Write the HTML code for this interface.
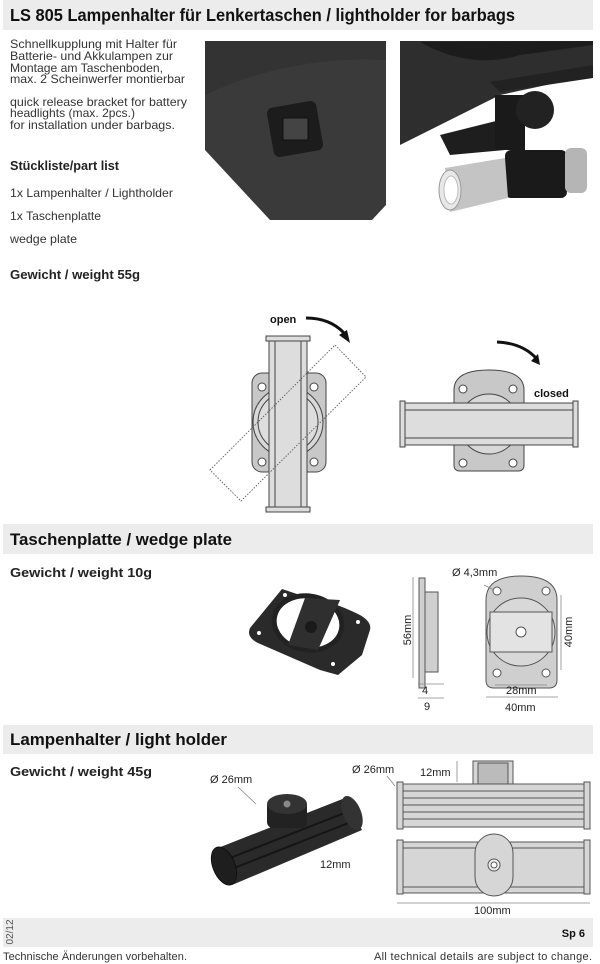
<!DOCTYPE html>
<html><head><meta charset="utf-8"><style>
body{margin:0;background:#fff;}
svg{display:block;font-family:"Liberation Sans",sans-serif;}
</style></head><body>
<svg width="600" height="964" viewBox="0 0 600 964" xmlns="http://www.w3.org/2000/svg">
<rect x="3" y="0" width="590" height="30" fill="#ececec"/>
<text x="10" y="21" font-size="17.5" font-weight="bold" fill="#111" textLength="505" lengthAdjust="spacingAndGlyphs">LS 805 Lampenhalter für Lenkertaschen / lightholder for barbags</text>
<g font-size="12" fill="#333">
<text x="10" y="48" textLength="167" lengthAdjust="spacingAndGlyphs">Schnellkupplung mit Halter für</text>
<text x="10" y="60" textLength="163" lengthAdjust="spacingAndGlyphs">Batterie- und Akkulampen zur</text>
<text x="10" y="72" textLength="153" lengthAdjust="spacingAndGlyphs">Montage am Taschenboden,</text>
<text x="10" y="83" textLength="175" lengthAdjust="spacingAndGlyphs">max. 2 Scheinwerfer montierbar</text>
<text x="10" y="106" textLength="177" lengthAdjust="spacingAndGlyphs">quick release bracket for battery</text>
<text x="10" y="117" textLength="125" lengthAdjust="spacingAndGlyphs">headlights (max. 2pcs.)</text>
<text x="10" y="129" textLength="165" lengthAdjust="spacingAndGlyphs">for installation under barbags.</text>
<text x="10" y="197" textLength="163" lengthAdjust="spacingAndGlyphs">1x Lampenhalter / Lightholder</text>
<text x="10" y="220" textLength="91" lengthAdjust="spacingAndGlyphs">1x Taschenplatte</text>
<text x="10" y="243" textLength="67" lengthAdjust="spacingAndGlyphs">wedge plate</text>
</g>
<g font-size="13" font-weight="bold" fill="#222">
<text x="10" y="170" textLength="109" lengthAdjust="spacingAndGlyphs">Stückliste/part list</text>
<text x="10" y="279" textLength="130" lengthAdjust="spacingAndGlyphs">Gewicht / weight 55g</text>
</g>
<!-- photos -->
<path d="M205 41 L386 41 L386 205 L372 220 L270 220 L205 150Z" fill="#3a3a3a"/>
<path d="M205 95 Q290 55 386 60 L386 41 L205 41Z" fill="#333"/>
<rect x="270" y="104" width="50" height="50" rx="6" fill="#1c1c1c" transform="rotate(-10 295 129)"/>
<rect x="283" y="118" width="25" height="22" fill="#444" stroke="#111"/>
<path d="M400 41 L593 41 L593 75 L500 95 L400 145Z" fill="#2e2e2e"/>
<path d="M420 42 Q470 70 520 55 L593 45 L593 41Z" fill="#1c1c1c"/>
<path d="M490 82 L593 65 L593 78 L500 92Z" fill="#222"/>
<path d="M440 135 L500 120 L505 150 L450 155Z" fill="#1e1e1e"/>
<rect x="495" y="95" width="30" height="55" fill="#1a1a1a"/>
<circle cx="535" cy="110" r="19" fill="#222"/>
<rect x="505" y="150" width="62" height="48" rx="6" fill="#1a1a1a"/>
<path d="M445 168 L505 158 L508 198 L450 212Z" fill="#c4c4c4"/>
<ellipse cx="450" cy="190" rx="11" ry="20" fill="#e8e8e8" stroke="#999"/>
<ellipse cx="451" cy="190" rx="7" ry="14" fill="#fff" stroke="#bbb"/>
<rect x="565" y="148" width="22" height="45" rx="6" fill="#b5b5b5"/>
<!-- open diagram -->
<g stroke="#444" stroke-width="1" fill="#c8c8c8">
<rect x="252" y="373" width="74" height="99" rx="10"/>
<circle cx="288" cy="422" r="35" fill="#d8d8d8"/>
<circle cx="288" cy="422" r="30" fill="#ddd"/>
<circle cx="262" cy="387" r="4" fill="#fff"/><circle cx="314" cy="387" r="4" fill="#fff"/>
<circle cx="262" cy="462" r="4" fill="#fff"/><circle cx="314" cy="462" r="4" fill="#fff"/>
<rect x="269" y="339" width="38" height="171" fill="#ddd"/>
<line x1="275" y1="339" x2="275" y2="510"/><line x1="301" y1="339" x2="301" y2="510"/>
<rect x="266" y="336" width="44" height="5" fill="#ddd"/>
<rect x="266" y="507" width="44" height="5" fill="#ddd"/>
</g>
<polygon points="210,470 335,345 366,377 241,501" fill="none" stroke="#666" stroke-dasharray="1.5,1.5"/>
<text x="270" y="323" font-size="11" font-weight="bold" fill="#111">open</text>
<path d="M306 318 Q330 318 344 333" fill="none" stroke="#111" stroke-width="3"/>
<polygon points="339,335 350,343 347,330" fill="#111"/>
<!-- closed diagram -->
<g stroke="#444" stroke-width="1" fill="#c8c8c8">
<path d="M454 390 Q454 370 489 370 Q524 370 524 390 L524 465 Q524 471 518 471 L460 471 Q454 471 454 465Z"/>
<circle cx="489" cy="424" r="30" fill="#d8d8d8"/>
<circle cx="463" cy="389" r="4" fill="#fff"/><circle cx="513" cy="389" r="4" fill="#fff"/>
<circle cx="463" cy="463" r="4" fill="#fff"/><circle cx="513" cy="463" r="4" fill="#fff"/>
<rect x="404" y="403" width="170" height="42" fill="#ddd"/>
<line x1="404" y1="410" x2="574" y2="410"/><line x1="404" y1="438" x2="574" y2="438"/>
<rect x="400" y="401" width="5" height="46" fill="#ddd"/>
<rect x="573" y="401" width="5" height="46" fill="#ddd"/>
</g>
<text x="534" y="397" font-size="11" font-weight="bold" fill="#111">closed</text>
<path d="M497 342 Q522 343 536 358" fill="none" stroke="#111" stroke-width="3"/>
<polygon points="531,361 540,365 538,354" fill="#111"/>
<!-- section 2 -->
<rect x="3" y="524" width="590" height="30" fill="#ececec"/>
<text x="10" y="545" font-size="17" font-weight="bold" fill="#111" textLength="222" lengthAdjust="spacingAndGlyphs">Taschenplatte / wedge plate</text>
<text x="10" y="577" font-size="13" font-weight="bold" fill="#222" textLength="142" lengthAdjust="spacingAndGlyphs">Gewicht / weight 10g</text>
<path d="M282 589 L300 595 Q330 600 360 615 Q372 622 370 630 L362 655 L338 675 L320 670 L258 643 Q246 637 250 628Z" fill="#2a2a2a"/>
<ellipse cx="308" cy="623" rx="34" ry="27" fill="#fff" stroke="#222" stroke-width="5" transform="rotate(10 308 623)"/>
<path d="M305 598 L340 600 L318 650 L288 645Z" fill="#2f2f2f"/>
<circle cx="311" cy="627" r="6" fill="#1a1a1a"/>
<circle cx="285" cy="595" r="2" fill="#fff"/><circle cx="358" cy="622" r="2" fill="#fff"/>
<circle cx="259" cy="633" r="2" fill="#fff"/><circle cx="333" cy="664" r="2" fill="#fff"/>
<g stroke="#555" stroke-width="1" fill="#cfcfcf">
<rect x="419" y="578" width="6" height="110"/>
<rect x="425" y="592" width="13" height="80"/>
<path d="M486 600 Q486 576 521 576 Q557 576 557 600 L557 680 Q557 688 549 688 L494 688 Q486 688 486 680Z"/>
<circle cx="521" cy="632" r="34" fill="#d8d8d8"/>
<rect x="490" y="612" width="62" height="40" fill="#e3e3e3"/>
<circle cx="521" cy="632" r="5" fill="#fff"/>
<circle cx="497" cy="591" r="4" fill="#fff"/><circle cx="546" cy="591" r="4" fill="#fff"/>
<circle cx="497" cy="673" r="4" fill="#fff"/><circle cx="546" cy="673" r="4" fill="#fff"/>
</g>
<g stroke="#888" stroke-width="0.8" fill="none">
<line x1="413" y1="577" x2="413" y2="678"/><line x1="561" y1="595" x2="561" y2="670"/>
<line x1="486" y1="697" x2="558" y2="697"/><line x1="495" y1="685" x2="547" y2="685"/>
<line x1="418" y1="684" x2="444" y2="684"/><line x1="418" y1="698" x2="444" y2="698"/>
<line x1="484" y1="585" x2="494" y2="590"/>
</g>
<g font-size="11" fill="#222">
<text x="452" y="576">Ø 4,3mm</text>
<text x="411" y="630" transform="rotate(-90 411 630)" text-anchor="middle">56mm</text>
<text x="572" y="632" transform="rotate(-90 572 632)" text-anchor="middle">40mm</text>
<text x="422" y="694">4</text><text x="424" y="710">9</text>
<text x="506" y="694">28mm</text><text x="505" y="711">40mm</text>
</g>
<!-- section 3 -->
<rect x="3" y="725" width="590" height="29" fill="#ececec"/>
<text x="10" y="745" font-size="17" font-weight="bold" fill="#111" textLength="217" lengthAdjust="spacingAndGlyphs">Lampenhalter / light holder</text>
<text x="10" y="776" font-size="13" font-weight="bold" fill="#222" textLength="142" lengthAdjust="spacingAndGlyphs">Gewicht / weight 45g</text>
<path d="M218 848 L345 798 L362 830 L232 885Z" fill="#2a2a2a"/>
<path d="M225 860 L352 810" stroke="#151515" stroke-width="2"/>
<path d="M229 870 L356 820" stroke="#151515" stroke-width="2"/>
<ellipse cx="224" cy="866" rx="11" ry="20" fill="#1e1e1e" stroke="#111" transform="rotate(-22 224 866)"/>
<ellipse cx="352" cy="813" rx="9" ry="18" fill="#333" transform="rotate(-22 352 813)"/>
<rect x="267" y="800" width="40" height="28" rx="6" fill="#222"/>
<ellipse cx="287" cy="804" rx="20" ry="10" fill="#333"/>
<circle cx="287" cy="804" r="3.5" fill="#888"/>
<g stroke="#555" stroke-width="1" fill="#d6d6d6">
<rect x="473" y="761" width="40" height="32"/>
<rect x="478" y="763" width="30" height="28" fill="#bbb"/>
<rect x="400" y="784" width="186" height="43"/>
<line x1="400" y1="791" x2="586" y2="791"/><line x1="400" y1="798" x2="586" y2="798"/>
<line x1="400" y1="805" x2="586" y2="805"/><line x1="400" y1="812" x2="586" y2="812"/>
<line x1="400" y1="819" x2="586" y2="819"/>
<rect x="397" y="782" width="6" height="47"/><rect x="584" y="782" width="6" height="47"/>
<rect x="400" y="842" width="186" height="51"/>
<line x1="400" y1="848" x2="586" y2="848"/><line x1="400" y1="887" x2="586" y2="887"/>
<rect x="397" y="840" width="6" height="54"/><rect x="584" y="840" width="6" height="54"/>
<rect x="475" y="834" width="38" height="62" rx="19"/>
<circle cx="494" cy="865" r="6" fill="#eee"/><circle cx="494" cy="865" r="3" fill="#fff"/>
</g>
<g stroke="#888" stroke-width="0.8"><line x1="397" y1="903" x2="590" y2="903"/><line x1="238" y1="787" x2="256" y2="804"/><line x1="387" y1="776" x2="395" y2="786"/><line x1="457" y1="761" x2="457" y2="782"/></g>
<g font-size="11" fill="#222">
<text x="210" y="783">Ø 26mm</text>
<text x="352" y="773">Ø 26mm</text>
<text x="420" y="776">12mm</text>
<text x="320" y="868">12mm</text>
<text x="474" y="914">100mm</text>
</g>
<!-- footer -->
<rect x="3" y="918" width="590" height="29" fill="#ececec"/>
<text x="585" y="937" font-size="11" font-weight="bold" text-anchor="end" fill="#111">Sp 6</text>
<text x="13" y="932" font-size="10" fill="#555" transform="rotate(-90 13 932)" text-anchor="middle">02/12</text>
<text x="3" y="960" font-size="11" fill="#333" textLength="184" lengthAdjust="spacing">Technische Änderungen vorbehalten.</text>
<text x="374" y="960" font-size="11" fill="#333" textLength="218" lengthAdjust="spacing">All technical details are subject to change.</text>
</svg>
</body></html>
